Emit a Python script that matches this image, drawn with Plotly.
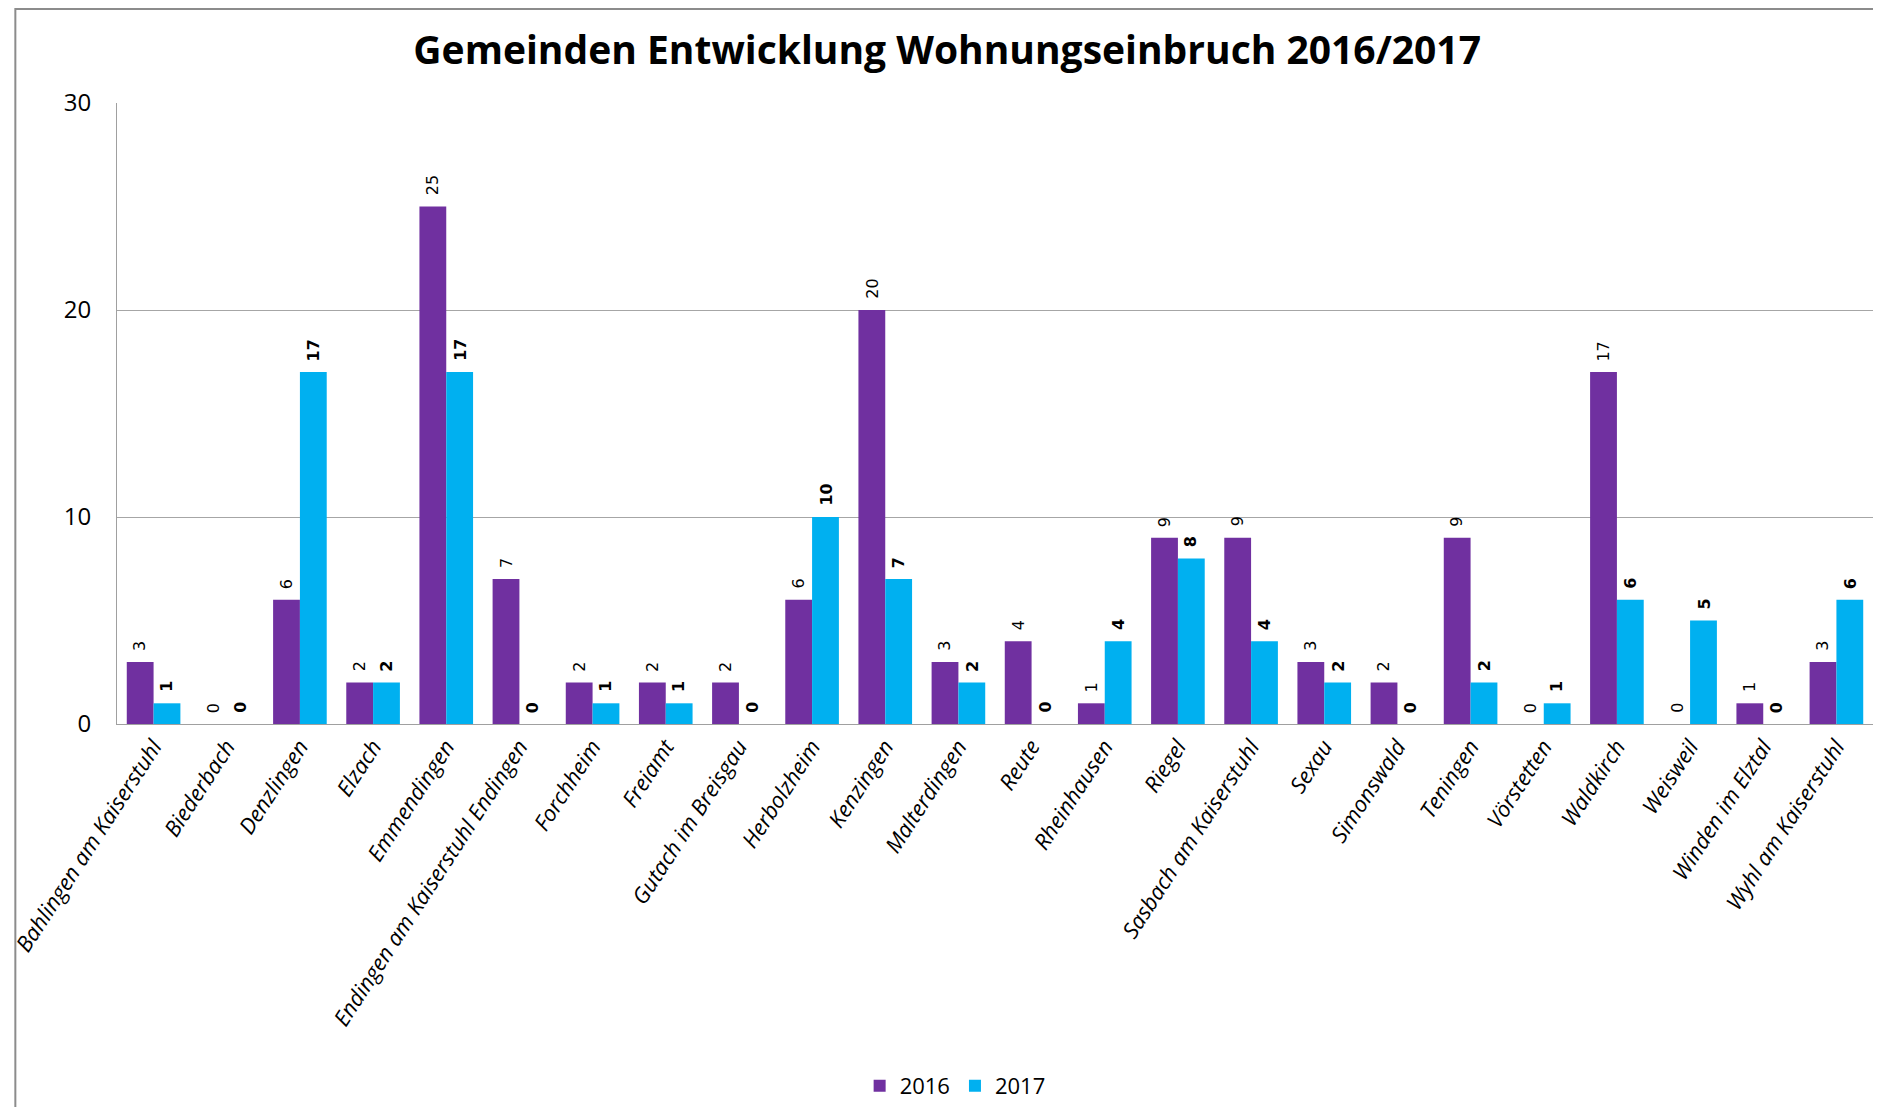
import plotly.graph_objects as go

gemeinden = ["Bahlingen am Kaiserstuhl", "Biederbach", "Denzlingen", "Elzach", "Emmendingen",
             "Endingen am Kaiserstuhl Endingen", "Forchheim", "Freiamt", "Gutach im Breisgau",
             "Herbolzheim", "Kenzingen", "Malterdingen", "Reute", "Rheinhausen", "Riegel",
             "Sasbach am Kaiserstuhl", "Sexau", "Simonswald", "Teningen", "Vörstetten",
             "Waldkirch", "Weisweil", "Winden im Elztal", "Wyhl am Kaiserstuhl"]
faelle_2016 = [3, 0, 6, 2, 25, 7, 2, 2, 2, 6, 20, 3, 4, 1, 9, 9, 3, 2, 9, 0, 17, 0, 1, 3]
faelle_2017 = [1, 0, 17, 2, 17, 0, 1, 1, 0, 10, 7, 2, 0, 4, 8, 4, 2, 0, 2, 1, 6, 5, 0, 6]
y_ticks = [0, 10, 20, 30]

# page body has an 8px margin, keep the figure inside the window (no scrollbars)
W, H = 1865, 1099
ML, MR, MT, MB = 103, 0, 95, 383
pw, ph = W - ML - MR, H - MT - MB

lila = "#7030A0"
blau = "#00B0F0"

fig = go.Figure()
fig.add_trace(go.Bar(x=gemeinden, y=faelle_2016, name="2016", marker_color=lila,
                     marker_line_width=0))
fig.add_trace(go.Bar(x=gemeinden, y=faelle_2017, name="2017", marker_color=blau,
                     marker_line_width=0))

# data labels, rotated like in excel
bar_w = pw / len(gemeinden) * (1 - 0.267) / 2
ann = []
for g, v in zip(gemeinden, faelle_2016):
    ann.append(dict(x=g, y=v, text=str(v), showarrow=False, textangle=-90,
                    xshift=-bar_w / 2, yshift=9, yanchor="bottom",
                    font=dict(family="DejaVu Sans", size=16, color="#000000")))
for g, v in zip(gemeinden, faelle_2017):
    ann.append(dict(x=g, y=v, text="<b>" + str(v) + "</b>", showarrow=False, textangle=-90,
                    xshift=bar_w / 2, yshift=9, yanchor="bottom",
                    font=dict(family="DejaVu Sans", size=16, color="#000000")))

fig.update_layout(
    width=W, height=H,
    margin=dict(l=ML, r=MR, t=MT, b=MB, pad=0),
    paper_bgcolor="white", plot_bgcolor="white",
    barmode="group", bargap=0.267, bargroupgap=0,
    title=dict(text="<b>Gemeinden Entwicklung Wohnungseinbruch 2016/2017</b>",
               x=(936 - ML) / pw, xref="paper", xanchor="center",
               y=1 - 42 / H, yref="container", yanchor="middle",
               font=dict(family="Open Sans", size=39, color="#000000")),
    font=dict(family="Open Sans", color="#000000"),
    xaxis=dict(showline=True, linecolor="#a0a0a0", linewidth=1, ticks="",
               tickangle=-57, tickfont=dict(family="Open Sans", size=22, style="italic"),
               showgrid=False),
    yaxis=dict(range=[0, 30], tickvals=y_ticks, showline=True, linecolor="#a0a0a0",
               gridcolor="#a6a6a6", gridwidth=1, zeroline=False, ticks="",
               ticklabelstandoff=20, tickfont=dict(family="Open Sans", size=24)),
    legend=dict(orientation="h", x=(944 - ML) / pw, xanchor="center",
                y=1 - 1078 / H, yref="container", yanchor="middle",
                font=dict(family="Open Sans", size=22), itemwidth=30),
    annotations=ann,
    shapes=[dict(type="rect", xref="paper", yref="paper",
                 x0=(1 - ML) / pw, x1=(W + 20 - ML) / pw,
                 y0=-(H + 20 - (H - MB)) / ph, y1=(H - MB - 1) / ph,
                 line=dict(color="#8c8c8c", width=2))],
)

fig.write_html("out.html")
